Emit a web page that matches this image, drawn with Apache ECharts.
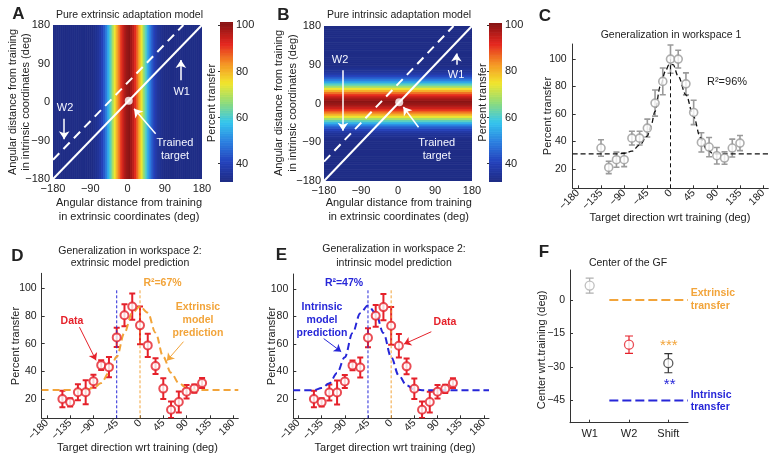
<!DOCTYPE html>
<html><head><meta charset="utf-8">
<script src="https://cdn.jsdelivr.net/npm/echarts@6/dist/echarts.min.js"></script>
<style>html,body{margin:0;padding:0;background:#fff}#c{width:779px;height:460px}</style>
</head><body><div id="c"></div>
<script>
// ---------- DATA ----------
// Generalization profile used by the two model heat maps (angle, percent transfer)
const profileAngles = [-180,-175,-170,-165,-160,-155,-150,-145,-140,-135,-130,-125,-120,-115,-110,-105,-100,-95,-90,-85,
  -80,-75,-70,-65,-60,-55,-50,-45,-40,-35,-30,-25,-20,-15,-10,-5,0,5,10,15,20,25,30,35,40,45,50,55,60,65,70,75,80,85,
  90,95,100,105,110,115,120,125,130,135,140,145,150,155,160,165,170,175,180];
const transferProfile = [32,32,32,32,32,32,32,32,32,32,32,32,32,32,32,32,32,32,32,32,
  33,34,35,37,40,44,49,55,61,68,74,80,85,90,94,97,99,100,98,95,91,86,80,74,67,61,54,49,44,40,37,35,34,33,
  32,32,32,32,32,32,32,32,32,32,32,32,32,32,32,32,32,32,32];
const heatTicks = [-180,-90,0,90,180];
const colorbarTicks = [40,60,80,100];
const w1Line = [[-180,-180],[180,180]];
const w2Line = [[-180,-135],[135,180]];
const trainedTarget = [[3,3]];

// Panel C : workspace 1
const dirTicks = [-180,-135,-90,-45,0,45,90,135,180];
const pctTicks = [20,40,60,80,100];
const ws1Dirs = [-135,-120,-105,-90,-75,-60,-45,-30,-15,0,15,30,45,60,75,90,105,120,135];
const ws1Transfer = [35.3,21.2,26.8,26.8,42.5,42.5,49.8,68,83.8,100,100,82,61.2,39.4,36,29.7,28,35.3,38.9];
const ws1Err = [6,4.5,5.5,5,5,5,6.5,9.5,9.7,10.3,6.5,8,8.9,7,7,6,4.5,6.5,5.5];
const ws1FitDirs = [-190,-105,-90,-75,-60,-45,-38,-30,-20,-10,-3,5,15,30,45,58,70,84,100,190];
const ws1FitVals = [31,31,31.5,33,37.5,44,51.5,62,80,91,96,96,87.5,74,58,43,34.5,31,31,31];

// Panels D, E : workspace 2
const ws2Dirs = [-150,-135,-120,-105,-90,-75,-60,-45,-30,-15,0,15,30,45,60,75,90,105,120];
const ws2Transfer = [20,17.6,24.8,24.8,32.8,44.5,43,64.6,80.6,86.9,73.3,58.8,43.8,27.5,12.2,17.8,25.3,27.5,31.6];
const ws2Err = [6,3,5.8,8.7,4.7,3.6,7.3,6.9,7.9,9.5,13.7,8.5,5.7,7.5,6,7.6,4.9,3,3.6];
const extPredDirs = [-190,-105,-90,-75,-60,-45,-30,-15,0,15,30,45,60,75,90,105,190];
const extPredVals = [26.5,26.5,28,31.5,39,50.5,68,82.5,87,82.5,68,50.5,39,31.5,28,26.5,26.5];
const intPredDirs = [-190,-150,-135,-120,-105,-90,-75,-60,-45,-30,-15,0,15,30,45,60,190];
const intPredVals = [26.5,26.5,28,31.5,39,50.5,68,82.5,88,82.5,68,50.5,37,30,27,26.5,26.5];
const extrinsicCenter = 0;
const intrinsicCenter = -45;

// Panel F : centre of the generalization function
const gfLabels = ['W1','W2','Shift'];
const gfCenter = [6.5,-20,-28.3];
const gfErr = [3.4,3.9,4.3];
const gfTicks = [-45,-30,-15,0];
const gfRefSpan = [1.5,3.5];
const extrinsicTransfer = 0;
const intrinsicTransfer = -45;

// ---------- STYLE ----------
const FONT = '"Liberation Sans", Arial, Helvetica, sans-serif';
const ORANGE = '#f2a43a', BLUE = '#2626d8', RED = '#e5212a', GRAY = '#9a9a9a', INK = '#222';
const jet = ['#1f2d86','#2442bd','#2c80e0','#34c6ee','#8fdc7a','#f2e62c','#f59324','#e5261f','#8c1414'];
const fmtNum = v => (v < 0 ? '\u2212' + Math.abs(v) : String(v));

const zip = (a, b) => a.map((v, i) => [v, b[i]]);
const profileData = zip(profileAngles, transferProfile);
const cbLevels = []; for (let v = 32; v <= 101; v++) cbLevels.push([v, Math.min(v, 100)]);

function stripeX(half) {
  return (params, api) => {
    const a = api.value(0), c = api.visual('color');
    const p1 = api.coord([a - half, 180]), p2 = api.coord([a + half, -180]);
    return {type:'rect', shape:{x:p1[0], y:p1[1], width:p2[0]-p1[0], height:p2[1]-p1[1]}, style:{fill:c, stroke:c, lineWidth:0.8}};
  };
}
function stripeY(half) {
  return (params, api) => {
    const a = api.value(0), c = api.visual('color');
    const p1 = api.coord([-180, a + half]), p2 = api.coord([180, a - half]);
    return {type:'rect', shape:{x:p1[0], y:p1[1], width:p2[0]-p1[0], height:p2[1]-p1[1]}, style:{fill:c, stroke:c, lineWidth:0.8}};
  };
}
function cbRender(params, api) {
  const lv = api.value(0), c = api.visual('color');
  const p1 = api.coord([0, lv + 1]), p2 = api.coord([1, lv]);
  return {type:'rect', shape:{x:p1[0], y:p1[1], width:p2[0]-p1[0], height:p2[1]-p1[1]}, style:{fill:c, stroke:c, lineWidth:0.8}};
}
function errBar(color, lw, cap) {
  return (params, api) => {
    const x = api.value(0), y = api.value(1), e = api.value(2);
    const p1 = api.coord([x, y + e]), p2 = api.coord([x, y - e]);
    const st = {stroke: color, lineWidth: lw};
    return {type:'group', children:[
      {type:'line', shape:{x1:p1[0], y1:p1[1], x2:p2[0], y2:p2[1]}, style:st},
      {type:'line', shape:{x1:p1[0]-cap, y1:p1[1], x2:p1[0]+cap, y2:p1[1]}, style:st},
      {type:'line', shape:{x1:p2[0]-cap, y1:p2[1], x2:p2[0]+cap, y2:p2[1]}, style:st}
    ]};
  };
}
function errBarColored(lw, cap, colors) {
  return (params, api) => errBar(colors[params.dataIndex], lw, cap)(params, api);
}

// axes helpers
const hidden = (extra) => Object.assign({type:'value', show:false, splitLine:{show:false}}, extra);
function heatAxis(extra, margin) {
  return Object.assign({type:'value', min:-180, max:180, axisLine:{show:false}, axisTick:{show:false}, splitLine:{show:false},
    axisLabel:{customValues:heatTicks, formatter:fmtNum, color:INK, fontSize:11, fontFamily:FONT, margin:margin}}, extra);
}
function plotAxis(extra, labelExtra, ticks) {
  return Object.assign({type:'value', splitLine:{show:false},
    axisLine:{show:true, onZero:false, lineStyle:{color:'#333', width:1}},
    axisTick:{show:true, inside:true, length:3, customValues:ticks, lineStyle:{color:'#333'}},
    axisLabel:Object.assign({customValues:ticks, formatter:fmtNum, color:INK, fontSize:10.5, fontFamily:FONT}, labelExtra)}, extra);
}

const grids = [
  {left:53, top:25, width:149, height:154},     // 0 A heat
  {left:220, top:22, width:13, height:160},     // 1 A colorbar
  {left:324, top:26, width:148, height:155},    // 2 B heat
  {left:489, top:23, width:13, height:159},     // 3 B colorbar
  {left:572.7, top:44, width:195.6, height:144.3}, // 4 C
  {left:41.7, top:273.3, width:196.6, height:145},  // 5 D
  {left:293.3, top:274, width:195.7, height:144.3}, // 6 E
  {left:570, top:270, width:118, height:152.7}      // 7 F
];

const xAxis = [
  heatAxis({gridIndex:0}, 4),                                   // 0
  hidden({gridIndex:1, min:0, max:1}),                          // 1
  heatAxis({gridIndex:2}, 4),                                   // 2
  hidden({gridIndex:3, min:0, max:1}),                          // 3
  plotAxis({gridIndex:4, min:-190, max:190}, {rotate:45, margin:3}, dirTicks), // 4
  plotAxis({gridIndex:5, min:-190, max:190}, {rotate:45, margin:3}, dirTicks), // 5
  plotAxis({gridIndex:6, min:-190, max:190}, {rotate:45, margin:3}, dirTicks), // 6
  plotAxis({gridIndex:7, min:0.5, max:3.5}, {formatter: v => gfLabels[Math.round(v) - 1], margin:6, fontSize:11}, [1,2,3]) // 7
];
const yAxis = [
  heatAxis({gridIndex:0}, 3),                                   // 0
  {type:'value', gridIndex:1, min:32, max:101.5, position:'right', splitLine:{show:false}, axisLine:{show:false},
    axisTick:{show:true, inside:true, length:2, customValues:colorbarTicks, lineStyle:{color:'#333'}},
    axisLabel:{customValues:colorbarTicks, color:INK, fontSize:11, fontFamily:FONT, margin:3}}, // 1
  heatAxis({gridIndex:2}, 3),                                   // 2
  {type:'value', gridIndex:3, min:32, max:101, position:'right', splitLine:{show:false}, axisLine:{show:false},
    axisTick:{show:true, inside:true, length:2, customValues:colorbarTicks, lineStyle:{color:'#333'}},
    axisLabel:{customValues:colorbarTicks, color:INK, fontSize:11, fontFamily:FONT, margin:3}}, // 3
  plotAxis({gridIndex:4, min:6, max:111}, {margin:6}, pctTicks), // 4
  plotAxis({gridIndex:5, min:6, max:111}, {margin:5}, pctTicks), // 5
  plotAxis({gridIndex:6, min:6, max:111}, {margin:5}, pctTicks), // 6
  plotAxis({gridIndex:7, min:-55, max:13.5}, {margin:5}, gfTicks) // 7
];

function arrows(color, width, size, pairs) {
  return {silent:true, animation:false, symbol:['none','arrow'], symbolSize:size, label:{show:false},
    lineStyle:{color:color, width:width, type:'solid'},
    emphasis:{disabled:true},
    data: pairs.map(p => [{coord:p[0]}, {coord:p[1]}])};
}

const series = [
  {type:'custom', xAxisIndex:0, yAxisIndex:0, data:profileData, renderItem:stripeX(2.5), clip:true, silent:true},
  {type:'custom', xAxisIndex:2, yAxisIndex:2, data:profileData, renderItem:stripeY(2.5), clip:true, silent:true},
  {type:'custom', xAxisIndex:1, yAxisIndex:1, data:cbLevels, renderItem:cbRender, clip:true, silent:true},
  {type:'custom', xAxisIndex:3, yAxisIndex:3, data:cbLevels, renderItem:cbRender, clip:true, silent:true},

  // A overlay
  {type:'line', xAxisIndex:0, yAxisIndex:0, data:w1Line, showSymbol:false, z:5, lineStyle:{color:'#fff', width:2}, silent:true,
    markLine: arrows('#fff', 1.5, 8, [[[129,51],[129,98]], [[-153,-39],[-153,-87]], [[68,-74],[16,-16]]])},
  {type:'line', xAxisIndex:0, yAxisIndex:0, data:w2Line, showSymbol:false, z:5, lineStyle:{color:'#fff', width:2, type:[9,6]}, silent:true},
  {type:'scatter', xAxisIndex:0, yAxisIndex:0, data:trainedTarget, symbolSize:8, z:6, itemStyle:{color:'#fff'}, silent:true},
  // B overlay
  {type:'line', xAxisIndex:2, yAxisIndex:2, data:w1Line, showSymbol:false, z:5, lineStyle:{color:'#fff', width:2}, silent:true,
    markLine: arrows('#fff', 1.5, 8, [[[-134,77],[-134,-63]], [[142,90],[142,116]], [[50,-55],[13,-8]]])},
  {type:'line', xAxisIndex:2, yAxisIndex:2, data:w2Line, showSymbol:false, z:5, lineStyle:{color:'#fff', width:2, type:[9,6]}, silent:true},
  {type:'scatter', xAxisIndex:2, yAxisIndex:2, data:trainedTarget, symbolSize:8, z:6, itemStyle:{color:'#fff'}, silent:true},

  // C
  {type:'line', xAxisIndex:4, yAxisIndex:4, data:[[0,6],[0,100]], showSymbol:false, lineStyle:{color:'#111', width:1, type:[4,3]}, silent:true},
  {type:'line', xAxisIndex:4, yAxisIndex:4, data:zip(ws1FitDirs, ws1FitVals), showSymbol:false, smooth:0.35, smoothMonotone:'x',
    lineStyle:{color:'#111', width:1.3, type:[5,3]}, silent:true},
  {type:'custom', xAxisIndex:4, yAxisIndex:4, data:ws1Dirs.map((d,i)=>[d, ws1Transfer[i], ws1Err[i]]), renderItem:errBar(GRAY, 1.6, 3), clip:true, silent:true, z:3},
  {type:'scatter', xAxisIndex:4, yAxisIndex:4, data:zip(ws1Dirs, ws1Transfer), symbolSize:8, z:4, silent:true,
    itemStyle:{color:'#fff', borderColor:GRAY, borderWidth:1.6}},

  // D
  {type:'line', xAxisIndex:5, yAxisIndex:5, data:[[intrinsicCenter,6],[intrinsicCenter,100]], showSymbol:false, lineStyle:{color:BLUE, width:1, type:[3,2]}, silent:true},
  {type:'line', xAxisIndex:5, yAxisIndex:5, data:[[extrinsicCenter,6],[extrinsicCenter,100]], showSymbol:false, lineStyle:{color:ORANGE, width:1, type:[3,2]}, silent:true},
  {type:'line', xAxisIndex:5, yAxisIndex:5, data:zip(extPredDirs, extPredVals), showSymbol:false, smooth:0.35, smoothMonotone:'x',
    lineStyle:{color:ORANGE, width:2, type:[7,4]}, silent:true,
    markLine: arrows(ORANGE, 1, 7, [[[84,61.5],[52,47.7]]])},
  {type:'custom', xAxisIndex:5, yAxisIndex:5, data:ws2Dirs.map((d,i)=>[d, ws2Transfer[i], ws2Err[i]]), renderItem:errBar(RED, 2, 3), clip:true, silent:true, z:3},
  {type:'scatter', xAxisIndex:5, yAxisIndex:5, data:zip(ws2Dirs, ws2Transfer), symbolSize:8, z:4, silent:true,
    itemStyle:{color:'#fff', borderColor:RED, borderWidth:2},
    markLine: arrows(RED, 1, 7, [[[-117,72],[-85,48]]])},

  // E
  {type:'line', xAxisIndex:6, yAxisIndex:6, data:[[intrinsicCenter,6],[intrinsicCenter,100]], showSymbol:false, lineStyle:{color:BLUE, width:1, type:[3,2]}, silent:true},
  {type:'line', xAxisIndex:6, yAxisIndex:6, data:[[extrinsicCenter,6],[extrinsicCenter,100]], showSymbol:false, lineStyle:{color:ORANGE, width:1, type:[3,2]}, silent:true},
  {type:'line', xAxisIndex:6, yAxisIndex:6, data:zip(intPredDirs, intPredVals), showSymbol:false, smooth:0.35, smoothMonotone:'x',
    lineStyle:{color:BLUE, width:2, type:[7,4]}, silent:true,
    markLine: arrows(BLUE, 1, 7, [[[-131,64],[-97,54.5]]])},
  {type:'custom', xAxisIndex:6, yAxisIndex:6, data:ws2Dirs.map((d,i)=>[d, ws2Transfer[i], ws2Err[i]]), renderItem:errBar(RED, 2, 3), clip:true, silent:true, z:3},
  {type:'scatter', xAxisIndex:6, yAxisIndex:6, data:zip(ws2Dirs, ws2Transfer), symbolSize:8, z:4, silent:true,
    itemStyle:{color:'#fff', borderColor:RED, borderWidth:2},
    markLine: arrows(RED, 1, 7, [[[78,69],[25,60]]])},

  // F
  {type:'line', xAxisIndex:7, yAxisIndex:7, data:gfRefSpan.map(x=>[x, extrinsicTransfer]), showSymbol:false, lineStyle:{color:ORANGE, width:2, type:[9,4]}, silent:true},
  {type:'line', xAxisIndex:7, yAxisIndex:7, data:gfRefSpan.map(x=>[x, intrinsicTransfer]), showSymbol:false, lineStyle:{color:BLUE, width:2, type:[9,4]}, silent:true},
  {type:'custom', xAxisIndex:7, yAxisIndex:7, data:gfCenter.map((c,i)=>[i+1, c, gfErr[i]]), renderItem:errBarColored(1.2, 4, ['#b0b0b0', RED, '#333']), clip:true, silent:true, z:3},
  {type:'scatter', xAxisIndex:7, yAxisIndex:7, data:gfCenter.map((c,i)=>({value:[i+1, c], itemStyle:{borderColor:['#b0b0b0', RED, '#333'][i]}})),
    symbolSize:9, z:4, silent:true, itemStyle:{color:'#fff', borderWidth:1.3}}
];

function T(text, x, y, o) {
  o = o || {};
  return {type:'text', x:x, y:y, rotation:o.rot || 0, silent:true, z:100,
    style:{text:text, fill:o.color || INK, font:(o.bold ? 'bold ' : '') + (o.size || 11) + 'px ' + FONT,
      align:o.align || 'center', verticalAlign:'middle'}};
}
const R = Math.PI / 2;
const WHITE = '#f4f6ff';
const texts = [
  T('A', 18.5, 14, {bold:true, size:17}), T('B', 283.5, 15, {bold:true, size:17}), T('C', 545, 16, {bold:true, size:17}),
  T('D', 17.5, 256.5, {bold:true, size:17}), T('E', 281.5, 255.5, {bold:true, size:17}), T('F', 544, 252.5, {bold:true, size:17}),
  T('Pure extrinsic adaptation model', 129.5, 15, {size:10.5}), T('Pure intrinsic adaptation model', 399, 15, {size:10.5}),
  T('Angular distance from training', 129, 203.3), T('in extrinsic coordinates (deg)', 129, 216.7),
  T('Angular distance from training', 398.7, 203.3), T('in extrinsic coordinates (deg)', 398.7, 216.7),
  T('Angular distance from training', 12.5, 102, {rot:R}), T('in intrinsic coordinates (deg)', 26, 102, {rot:R}),
  T('Angular distance from training', 279, 103, {rot:R}), T('in intrinsic coordinates (deg)', 293.3, 103, {rot:R}),
  T('Percent transfer', 211.7, 103, {rot:R}), T('Percent transfer', 482.5, 102.5, {rot:R}),
  T('W1', 181.7, 91.7, {color:WHITE}), T('W2', 65, 108.3, {color:WHITE}),
  T('Trained', 175, 143.3, {color:WHITE}), T('target', 175, 155.7, {color:WHITE}),
  T('W2', 340, 60, {color:WHITE}), T('W1', 456, 75, {color:WHITE}),
  T('Trained', 436.7, 143.3, {color:WHITE}), T('target', 436.7, 155.7, {color:WHITE}),

  T('Generalization in workspace 1', 671, 35, {size:10.5}), T('Percent transfer', 547.5, 116, {rot:R}),
  T('Target direction wrt training (deg)', 670, 218), T('R\u00b2=96%', 727, 82),

  T('Generalization in workspace 2:', 130, 250.7, {size:10.5}), T('extrinsic model prediction', 130, 263.3, {size:10.5}),
  T('Percent transfer', 16, 346, {rot:R}), T('Target direction wrt training (deg)', 137.5, 448),
  T('R\u00b2=67%', 162.5, 282.7, {bold:true, color:ORANGE, size:10.5}), T('Data', 72, 320.7, {bold:true, color:RED, size:10.5}),
  T('Extrinsic', 198, 306.7, {bold:true, color:ORANGE, size:10.5}), T('model', 198, 320, {bold:true, color:ORANGE, size:10.5}), T('prediction', 198, 333, {bold:true, color:ORANGE, size:10.5}),

  T('Generalization in workspace 2:', 394, 249.5, {size:10.5}), T('intrinsic model prediction', 394, 263, {size:10.5}),
  T('Percent transfer', 271.7, 346, {rot:R}), T('Target direction wrt training (deg)', 395, 448),
  T('R\u00b2=47%', 344, 283.3, {bold:true, color:BLUE, size:10.5}), T('Data', 445, 321.7, {bold:true, color:RED, size:10.5}),
  T('Intrinsic', 322, 306.7, {bold:true, color:BLUE, size:10.5}), T('model', 322, 320, {bold:true, color:BLUE, size:10.5}), T('prediction', 322, 333.3, {bold:true, color:BLUE, size:10.5}),

  T('Center of the GF', 628, 263.3, {size:10.5}), T('Center wrt.training (deg)', 541.7, 350, {rot:R}),
  T('Extrinsic', 690.7, 293.3, {bold:true, color:ORANGE, align:'left', size:10.5}), T('transfer', 690.7, 306, {bold:true, color:ORANGE, align:'left', size:10.5}),
  T('Intrinsic', 690.7, 395, {bold:true, color:BLUE, align:'left', size:10.5}), T('transfer', 690.7, 407.3, {bold:true, color:BLUE, align:'left', size:10.5}),
  T('***', 668.8, 346, {color:ORANGE, size:15}), T('**', 669.7, 384.5, {color:BLUE, size:15})
];

const chart = echarts.init(document.getElementById('c'), null, {renderer:'canvas'});
chart.setOption({
  animation:false,
  backgroundColor:'#fff',
  tooltip:{show:false},
  grid:grids,
  xAxis:xAxis,
  yAxis:yAxis,
  visualMap:[{type:'continuous', show:false, min:32, max:100, dimension:1, seriesIndex:[0,1,2,3], inRange:{color:jet}}],
  series:series,
  graphic:texts
});
</script></body></html>
